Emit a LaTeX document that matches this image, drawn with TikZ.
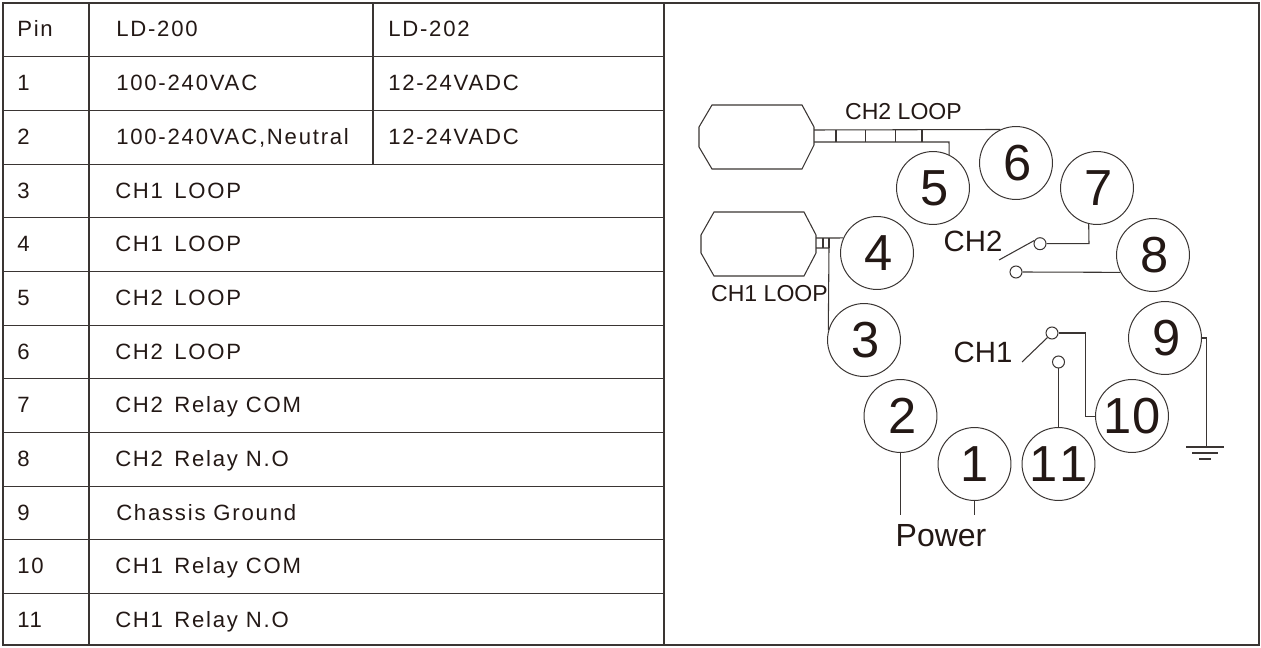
\documentclass[tikz,border=0pt]{standalone}
\usepackage{fontspec}
\setmainfont{Liberation Sans}
\newfontfamily\tablefont[LetterSpace=8]{Liberation Sans}
\definecolor{inkline}{HTML}{3A3533}
\definecolor{inktext}{HTML}{231815}
\newcommand\nudged[1]{\hspace*{3pt}#1}
\newcommand\wordgap{\hspace{8.5pt}}
\tikzset{
  pinbubble/.style={circle,draw=inkline,line width=0.75pt,minimum size=54.7pt,inner sep=0pt,
    font=\fontsize{38}{38}\selectfont,text=inktext},
  contact/.style={circle,draw=inkline,line width=0.75pt,minimum size=9pt,inner sep=0pt},
  celltext/.style={anchor=base west,inner sep=0pt,font=\tablefont\fontsize{16.6}{16.6}\selectfont,text=inktext},
  looptext/.style={inner sep=0pt,font=\fontsize{17.3}{17.3}\selectfont,text=inktext},
  chtext/.style={inner sep=0pt,font=\fontsize{22}{22}\selectfont,text=inktext},
  wire/.style={draw=inkline,line width=0.8pt},
  grid/.style={draw=inkline,line width=1pt},
}
\begin{document}
\begin{tikzpicture}[x=0.75pt,y=-0.75pt]
  \useasboundingbox (0,0) rectangle (1261,648);
  % table frame
  \draw[grid] (3,3) rectangle (1259,645);
  \draw[grid] (89,3) -- (89,645);
  \draw[grid] (664,3) -- (664,645);
  \draw[grid] (373,3) -- (373,164.5);
  \foreach \y in {56.5,110.5,164.5,217.5,271.5,325.5,378.5,432.5,486.5,539.5,593.5}
    \draw[grid] (3,\y) -- (664,\y);
  % table text
  \foreach \pin/\txt/\tx [count=\i] in {Pin/LD-200/116,1/100-240VAC/116,2/{100-240VAC,Neutral}/116,
      3/CH1\wordgap LOOP/115,4/CH1\wordgap LOOP/115,5/CH2\wordgap LOOP/115,6/CH2\wordgap LOOP/115,
      7/CH2\wordgap Relay COM/115,8/CH2\wordgap Relay N.O/115,9/Chassis Ground/116,
      10/CH1\wordgap Relay COM/115,11/CH1\wordgap Relay N.O/115}
    \node[celltext] (pin\i) at (17,37+53.7*\i-53.7) {\pin}
      node[celltext] (txt\i) at (\tx,37+53.7*\i-53.7) {\txt};
  \node[celltext] (alt1) at (388,37) {LD-202};
  \node[celltext] (alt2) at (388,90.7) {12-24VADC};
  \node[celltext] (alt3) at (388,144.4) {12-24VADC};
  % terminals
  \node[pinbubble] (t1) at (974.5,464) {1};
  \node[pinbubble] (t2) at (900.5,416) {\nudged{2}};
  \node[pinbubble] (t3) at (864,340) {\nudged{3}};
  \node[pinbubble] (t4) at (877,253) {\nudged{4}};
  \node[pinbubble] (t5) at (933,188) {\nudged{5}};
  \node[pinbubble] (t6) at (1016,163) {\nudged{6}};
  \node[pinbubble] (t7) at (1097,188) {\nudged{7}};
  \node[pinbubble] (t8) at (1153,255) {\nudged{8}};
  \node[pinbubble] (t9) at (1165,338) {\nudged{9}};
  \node[pinbubble] (t10) at (1132,416) {10};
  \node[pinbubble] (t11) at (1058.5,464) {1\kern1.5pt 1};
  % loops
  \draw[wire] (712,105) -- (802,105) -- (814,127) -- (814,145) -- (802,169)
    -- (712,169) -- (699,147) -- (699,127) -- cycle;
  \draw[wire] (714,212) -- (804,212) -- (816,235) -- (816,253) -- (804,276)
    -- (714,276) -- (701,253) -- (701,235) -- cycle;
  \coordinate (ch2a) at (814,130);
  \coordinate (ch2b) at (814,142);
  \coordinate (ch1a) at (816,238);
  \coordinate (ch1b) at (816,248);
  \draw[wire] (ch2a) -- (t6.115);
  \draw[wire] (ch2b) -- (949,142) -- (t5.64);
  \foreach \x in {836,865.5,895.5,922}
    \draw[wire] (\x,130) -- (\x,142);
  \draw[wire] (ch1a) -- (t4.156);
  \draw[wire] (ch1b) -- (829,248) -- (t3.165);
  \draw[wire] (823,238) -- (823,248);
  \draw[wire] (829,238) -- (829,248);
  \node[looptext] (ch2loop) at (903.5,112) {CH2 LOOP};
  \node[looptext] (ch1loop) at (769.5,293.5) {CH1 LOOP};
  % relay CH2
  \node[chtext] (ch2lab) at (973,241) {CH2};
  \node[contact] (c7) at (1040,243.7) {};
  \node[contact] (c8) at (1016,272) {};
  \coordinate (blade2) at (999,260);
  \draw[wire] (blade2) -- (c7.150);
  \draw[wire] (c7.east) -- (1089,243.7) -- (t7.257);
  \draw[wire] (c8.east) -- (t8.208);
  % relay CH1
  \node[chtext] (ch1lab) at (983,352) {CH1};
  \node[contact] (c10) at (1052,333) {};
  \node[contact] (c11) at (1058.5,362) {};
  \coordinate (blade1) at (1022,362);
  \draw[wire] (blade1) -- (c10.225);
  \draw[wire] (c10.east) -- (1085.5,333) -- (1085.5,416.5) -- (t10.west |- 0,416.5);
  \draw[wire] (c11.south) -- (t11.north);
  % ground
  \coordinate (gnd) at (1206.5,447);
  \draw[wire] (t9.east) -- (gnd |- t9.east) -- (gnd);
  \draw[wire] (1186,447) -- (1224,447);
  \draw[wire] (1192,453) -- (1218,453);
  \draw[wire] (1199,459) -- (1211,459);
  % power
  \node[inner sep=0pt,font=\fontsize{24}{24}\selectfont,text=inktext] (power) at (941,536) {Power};
  \draw[wire] (t2.south) -- (900.5,515);
  \draw[wire] (t1.south) -- (974.5,515);
\end{tikzpicture}
\end{document}
